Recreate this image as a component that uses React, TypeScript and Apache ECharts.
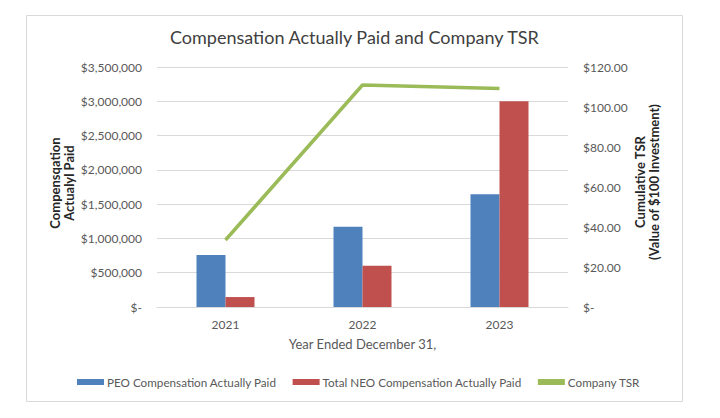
import React, { useEffect, useRef } from "react";
import * as echarts from "echarts";

const categories = ["2021", "2022", "2023"];
const peoCap = [760000, 1170000, 1645000];
const neoCap = [145000, 600000, 3000000];
const companyTsr = [33.5, 111, 109.3];
const leftTicks = { min: 0, max: 3500000, interval: 500000 };
const rightTicks = { min: 0, max: 120, interval: 20 };
const leftAxisName = "Compensqation\nActualyl Paid";
const rightAxisName = "Cumulative TSR\n(Value of $100 Investment)";

const FONT = "Lato, 'Open Sans', sans-serif";
const GRAY = "#595959";

function fmtMoney(v: number) {
  if (v === 0) return "$-";
  return "$" + v.toLocaleString("en-US");
}
function fmtTsr(v: number) {
  if (v === 0) return "$-";
  return "$" + v.toFixed(2);
}

export default function App() {
  const ref = useRef<HTMLDivElement>(null);
  useEffect(() => {
    if (!ref.current) return;
    const chart = echarts.init(ref.current, undefined, { renderer: "svg" });
    const nameStyle = {
      fill: "#262626",
      font: "bold 13px " + FONT,
      align: "center",
      verticalAlign: "middle",
      lineHeight: 14,
    };
    chart.setOption({
      animation: false,
      backgroundColor: "#ffffff",
      textStyle: { fontFamily: FONT },
      title: {
        text: "Compensation Actually Paid and Company TSR",
        left: 165,
        top: 23,
        textStyle: { fontFamily: FONT, fontSize: 18, fontWeight: "normal", color: "#404040" },
      },
      graphic: [
        {
          type: "rect",
          shape: { x: 26.5, y: 15.5, width: 656, height: 386 },
          style: { fill: "none", stroke: "#D9D9D9", lineWidth: 1 },
          silent: true,
        },
        {
          type: "text",
          x: 62,
          y: 183,
          rotation: Math.PI / 2,
          style: { ...nameStyle, text: leftAxisName },
          silent: true,
        },
        {
          type: "text",
          x: 646.5,
          y: 182,
          rotation: Math.PI / 2,
          style: { ...nameStyle, text: rightAxisName },
          silent: true,
        },
      ],
      legend: {
        top: 376,
        left: 77,
        padding: 0,
        itemGap: 16,
        itemWidth: 27,
        itemHeight: 6,
        symbolKeepAspect: false,
        textStyle: { fontFamily: FONT, fontSize: 11.7, color: GRAY, padding: [0, 0, 0, -2] },
        data: [
          { name: "PEO Compensation Actually Paid", icon: "rect" },
          { name: "Total NEO Compensation Actually Paid", icon: "rect" },
          { name: "Company TSR", icon: "path://M0,0L30,0L30,3L0,3Z" },
        ],
      },
      grid: { left: 157, right: 152, top: 67, bottom: 111 },
      xAxis: {
        type: "category",
        data: categories,
        name: "Year Ended December 31,",
        nameLocation: "middle",
        nameGap: 30,
        nameTextStyle: { fontFamily: FONT, fontSize: 13, color: GRAY },
        axisLine: { lineStyle: { color: "#D9D9D9" } },
        axisTick: { show: false },
        axisLabel: { fontFamily: FONT, fontSize: 12, color: GRAY, margin: 11 },
      },
      yAxis: [
        {
          type: "value",
          min: leftTicks.min,
          max: leftTicks.max,
          interval: leftTicks.interval,
          axisLine: { show: false },
          axisTick: { show: false },
          splitLine: { lineStyle: { color: "#D9D9D9" } },
          axisLabel: { fontFamily: FONT, fontSize: 12, color: GRAY, margin: 15, formatter: fmtMoney },
        },
        {
          type: "value",
          min: rightTicks.min,
          max: rightTicks.max,
          interval: rightTicks.interval,
          position: "right",
          axisLine: { show: false },
          axisTick: { show: false },
          splitLine: { show: false },
          axisLabel: { fontFamily: FONT, fontSize: 12, color: GRAY, margin: 15, formatter: fmtTsr },
        },
      ],
      series: [
        {
          name: "PEO Compensation Actually Paid",
          type: "bar",
          data: peoCap,
          barWidth: 29,
          barGap: "0%",
          itemStyle: { color: "#4F81BD" },
        },
        {
          name: "Total NEO Compensation Actually Paid",
          type: "bar",
          data: neoCap,
          barWidth: 29,
          barGap: "0%",
          itemStyle: { color: "#C0504D" },
        },
        {
          name: "Company TSR",
          type: "line",
          yAxisIndex: 1,
          data: companyTsr,
          symbol: "none",
          lineStyle: { color: "#9BBB59", width: 3.5 },
          itemStyle: { color: "#9BBB59" },
        },
      ],
    });
    return () => chart.dispose();
  }, []);
  return (
    <div
      ref={ref}
      style={{ position: "absolute", left: 0, top: 0, width: 720, height: 418 }}
    />
  );
}
